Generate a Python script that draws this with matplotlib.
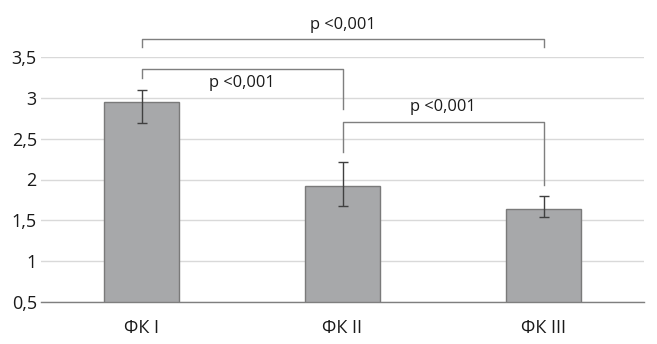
import matplotlib.pyplot as plt
import numpy as np

plt.rcParams['font.family'] = ['Open Sans', 'DejaVu Sans']

categories = ['ФК I', 'ФК II', 'ФК III']
means = [2.95, 1.92, 1.635]
err_low = [0.26, 0.245, 0.095]
err_high = [0.14, 0.30, 0.165]

p_labels = ['p <0,001', 'p <0,001', 'p <0,001']


def bracket(ax, x1, x2, y, left_drop, right_drop, text, text_y):
    ax.plot([x1, x1, x2, x2], [y - left_drop, y, y, y - right_drop],
            color='#7f7f7f', lw=1, clip_on=False, zorder=4)
    ax.text((x1 + x2) / 2, text_y, text, ha='center', va='center',
            fontsize=11.8, color='#1a1a1a', clip_on=False)


fig = plt.figure(figsize=(6.57, 3.44), dpi=100)
ax = fig.add_axes([41 / 657, 42 / 344, 603 / 657, 245 / 344])

x = np.arange(len(categories))
ax.bar(x, means, width=0.373, bottom=0, color='#a7a8aa',
       edgecolor='#7a7a7a', linewidth=1, zorder=2)
ax.errorbar(x, means, yerr=[err_low, err_high], fmt='none',
            ecolor='#404040', elinewidth=1, capsize=3.6, capthick=1, zorder=3)

ax.set_xlim(-0.5, 2.5)
ax.set_ylim(0.5, 3.5)
ax.set_yticks([0.5, 1, 1.5, 2, 2.5, 3, 3.5])
ax.set_yticklabels(['0,5', '1', '1,5', '2', '2,5', '3', '3,5'])
ax.set_xticks(x)
ax.set_xticklabels(categories)
ax.tick_params(axis='both', length=0, labelsize=13, colors='#1a1a1a')
ax.tick_params(axis='y', pad=3)
ax.tick_params(axis='x', pad=12)

ax.yaxis.grid(True, color='#d9d9d9', lw=1, zorder=0)
ax.set_axisbelow(True)
for s in ['top', 'right', 'left']:
    ax.spines[s].set_visible(False)
ax.spines['bottom'].set_color('#7f7f7f')
ax.spines['bottom'].set_linewidth(1)
ax.spines['bottom'].set_zorder(4)

# significance brackets
bracket(ax, 0, 2, 3.72, 0.10, 0.10, p_labels[0], 3.89)
bracket(ax, 0, 1, 3.35, 0.11, 0.49, p_labels[1], 3.18)
bracket(ax, 1, 2, 2.71, 0.37, 0.78, p_labels[2], 2.89)

fig.savefig('out.png', dpi=100, facecolor='white')
